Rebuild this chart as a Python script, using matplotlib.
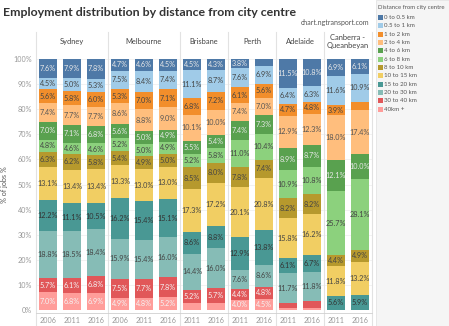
import matplotlib.pyplot as plt
from matplotlib.patches import Rectangle

plt.rcParams['font.family'] = ['Lato', 'DejaVu Sans']

# one entry per bar, left to right
cities = ['Sydney', 'Melbourne', 'Brisbane', 'Perth', 'Adelaide', 'Canberra -\nQueanbeyan']
city_years = [['2006', '2011', '2016'], ['2006', '2011', '2016'], ['2011', '2016'],
              ['2011', '2016'], ['2011', '2016'], ['2011', '2016']]

bands = ['0 to 0.5 km', '0.5 to 1 km', '1 to 2 km', '2 to 4 km', '4 to 6 km', '6 to 8 km',
         '8 to 10 km', '10 to 15 km', '15 to 20 km', '20 to 30 km', '30 to 40 km', '40km +']

d0_05 = [7.6, 7.9, 7.8, 4.7, 4.6, 4.5, 4.5, 4.3, 3.8, 2.9, 11.5, 10.8, 6.9, 6.1]
d05_1 = [4.5, 5.0, 5.3, 7.5, 8.4, 7.4, 11.1, 8.7, 7.6, 6.9, 6.4, 6.3, 11.6, 10.9]
d1_2 = [5.6, 5.8, 6.0, 5.3, 7.0, 7.1, 6.8, 7.2, 6.1, 5.6, 4.7, 4.8, 3.9, 3.5]
d2_4 = [7.4, 7.7, 7.7, 8.6, 8.8, 9.0, 10.1, 10.0, 7.4, 7.0, 12.9, 12.3, 18.0, 17.4]
d4_6 = [7.0, 7.1, 6.8, 5.6, 5.0, 4.9, 5.5, 5.4, 7.4, 7.3, 8.9, 8.7, 12.1, 10.0]
d6_8 = [4.8, 4.6, 4.6, 5.2, 5.0, 4.9, 5.2, 5.8, 11.0, 10.4, 10.9, 10.8, 25.7, 28.1]
d8_10 = [6.3, 6.2, 5.8, 5.4, 4.9, 5.0, 8.5, 8.0, 7.8, 7.4, 8.2, 8.2, 4.4, 4.9]
d10_15 = [13.1, 13.4, 13.4, 13.3, 13.0, 13.0, 17.3, 17.2, 20.1, 20.8, 15.8, 16.2, 11.8, 13.2]
d15_20 = [12.2, 11.1, 10.5, 16.2, 15.4, 15.1, 8.6, 8.8, 12.9, 13.8, 6.1, 6.7, 5.6, 5.9]
d20_30 = [18.8, 18.5, 18.4, 15.9, 15.4, 16.0, 14.4, 16.0, 7.6, 8.6, 11.7, 11.8, 0, 0]
d30_40 = [5.7, 6.1, 6.8, 7.5, 7.7, 7.8, 5.2, 5.7, 4.4, 4.8, 2.2, 2.6, 0, 0]
d40 = [7.0, 6.8, 6.9, 4.9, 4.8, 5.2, 2.8, 2.9, 4.0, 4.5, 0.7, 0.8, 0, 0]

values = [d0_05, d05_1, d1_2, d2_4, d4_6, d6_8, d8_10, d10_15, d15_20, d20_30, d30_40, d40]
colors = ['#4e79a7', '#a0cbe8', '#f28e2b', '#ffbe7d', '#59a14f', '#8cd17d',
          '#b6992d', '#f1ce63', '#499894', '#86bcb6', '#e15759', '#ff9d9a']
txt_colors = ['#e8e8e8', '#444444', '#444444', '#555555', '#e8e8e8', '#444444',
              '#444444', '#444444', '#333333', '#444444', '#f4f4f4', '#f4f4f4']

W, H = 449, 326
fig = plt.figure(figsize=(W / 100, H / 100), dpi=100)

def fx(px):
    return px / W

def fy(py):
    return 1 - py / H

ax = fig.add_axes([fx(36), fy(310), fx(372) - fx(36), fy(59) - fy(310)])

n = len(d0_05)
x = list(range(n))
bottom = [0.0] * n
# stack from the outermost band up to the centre
for vals, col, tc in zip(values[::-1], colors[::-1], txt_colors[::-1]):
    ax.bar(x, vals, width=0.78, bottom=bottom, color=col, linewidth=0, zorder=2)
    for i, v in enumerate(vals):
        if v >= 3.7:
            ax.text(i, bottom[i] + v / 2, f'{v:.1f}%', ha='center', va='center',
                    fontsize=5.2, color=tc, zorder=3)
    bottom = [b + v for b, v in zip(bottom, vals)]

ax.set_xlim(-0.5, n - 0.5)
ax.set_ylim(0, 100)
ax.set_yticks(range(0, 101, 10))
ax.set_yticklabels([f'{t}%' for t in range(0, 101, 10)])
ax.yaxis.grid(True, color='#f0f0f0', linewidth=0.6, zorder=0)
ax.set_axisbelow(True)
labels = [y for ys in city_years for y in ys]
ax.set_xticks(x)
ax.set_xticklabels(labels)
ax.tick_params(axis='both', length=0, labelsize=5.2, labelcolor='#999999', pad=3)
ax.set_ylabel('% of jobs %', fontsize=5.2, color='#555555', labelpad=4)
for s in ['top', 'right', 'left']:
    ax.spines[s].set_visible(False)
ax.spines['bottom'].set_color('#d0d0d0')
ax.spines['bottom'].set_linewidth(0.6)
ax.spines['bottom'].set_position(('outward', 2))

# panel separators and city headers
edges = [-0.5]
for ys in city_years:
    edges.append(edges[-1] + len(ys))
for e in edges:
    ax.axvline(e, ymin=-0.064, ymax=1.108, color='#e2e2e2', linewidth=0.8, clip_on=False, zorder=1)
for c, a, b in zip(cities, edges[:-1], edges[1:]):
    ax.text((a + b) / 2, 1.07, c, transform=ax.get_xaxis_transform(), ha='center', va='center',
            fontsize=5.4, color='#444444', linespacing=1.3)

fig.text(fx(3), fy(13), 'Employment distribution by distance from city centre',
         fontsize=8.9, fontweight='bold', color='#333333', va='center')
fig.text(fx(369), fy(22), 'chart.ngtransport.com', fontsize=5, color='#555555', ha='right', va='center')

# legend panel
fig.patches.append(Rectangle((fx(376), 0), 1 - fx(376), 1, transform=fig.transFigure,
                             facecolor='#f5f5f5', edgecolor='#e4e4e4', linewidth=0.6, zorder=0))
fig.text(fx(378.5), fy(7), 'Distance from city centre', fontsize=4.3, color='#555555', va='center')
for k, (lab, col) in enumerate(zip(bands, colors)):
    yy = 17.3 + k * 8.36
    fig.patches.append(Rectangle((fx(377.7), fy(yy + 2.5)), fx(5), 5 / H, transform=fig.transFigure,
                                 facecolor=col, edgecolor='none'))
    fig.text(fx(384.5), fy(yy), lab, fontsize=4.4, color='#555555', va='center')

fig.savefig('out.png', dpi=100)
